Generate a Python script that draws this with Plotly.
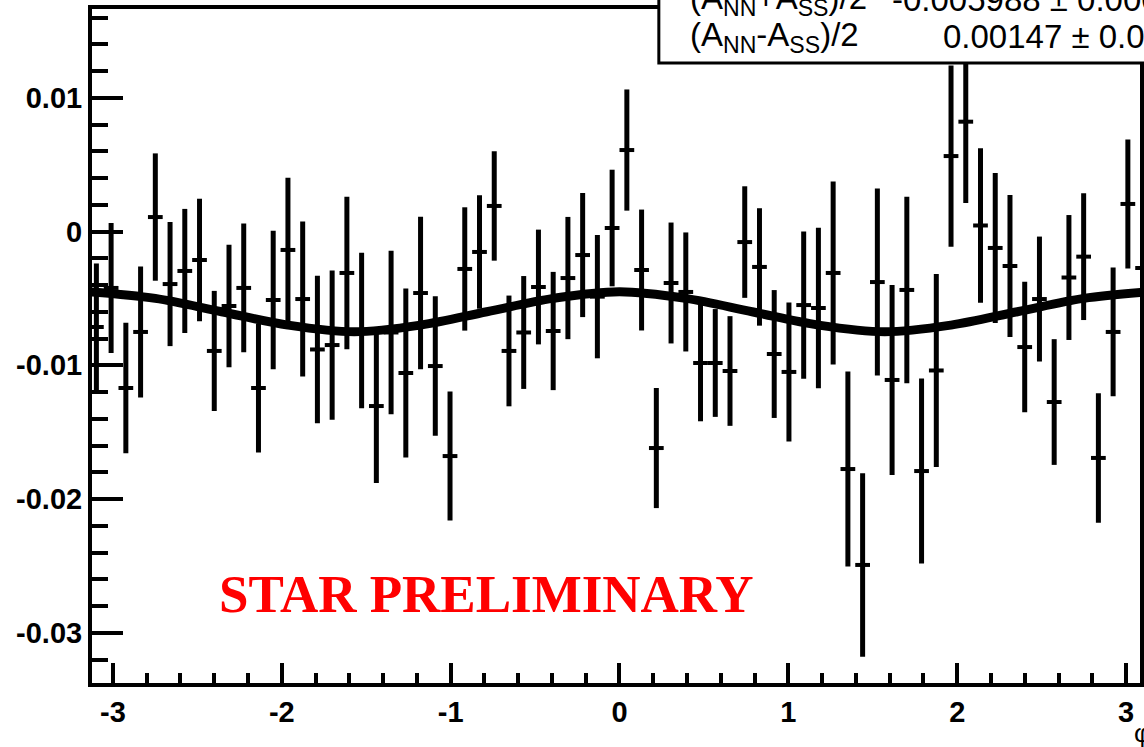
import numpy as np
import plotly.graph_objects as go

# ---- data ----
n_bins = 72
phi_edges = np.linspace(-np.pi, np.pi, n_bins + 1)
phi = 0.5 * (phi_edges[:-1] + phi_edges[1:])
half_bin = 0.5 * (phi_edges[1] - phi_edges[0])

asym = [-0.00714, -0.00422, -0.01170, -0.00751, 0.00108, -0.00393, -0.00295, -0.00213, -0.00893, -0.00557,
        -0.00422, -0.01170, -0.00512, -0.00138, -0.00505, -0.00882, -0.00849, -0.00310, -0.00740, -0.01305,
        -0.00755, -0.01058, -0.00460, -0.01006, -0.01679, -0.00280, -0.00153, 0.00191, -0.00893, -0.00755,
        -0.00415, -0.00744, -0.00348, -0.00176, -0.00487, 0.00026, 0.00609, -0.00288, -0.01619, -0.00385,
        -0.00452, -0.00983, -0.00983, -0.01043, -0.00079, -0.00265, -0.00916, -0.01050, -0.00550, -0.00572,
        -0.00310, -0.01776, -0.02493, -0.00378, -0.01110, -0.00437, -0.01791, -0.01039, 0.00564, 0.00821,
        0.00045, -0.00123, -0.00258, -0.00864, -0.00505, -0.01275, -0.00344, -0.00188, -0.01693, -0.00751,
        0.00206, -0.00273]

asym_err = [0.00475, 0.00486, 0.00488, 0.00490, 0.00476, 0.00464, 0.00464, 0.00458, 0.00449, 0.00458,
            0.00481, 0.00482, 0.00518, 0.00540, 0.00579, 0.00552, 0.00558, 0.00570, 0.00582, 0.00576,
            0.00612, 0.00632, 0.00570, 0.00522, 0.00482, 0.00461, 0.00424, 0.00409, 0.00414, 0.00422,
            0.00429, 0.00442, 0.00457, 0.00464, 0.00461, 0.00436, 0.00453, 0.00452, 0.00449, 0.00452,
            0.00445, 0.00436, 0.00403, 0.00410, 0.00417, 0.00439, 0.00478, 0.00520, 0.00550, 0.00600,
            0.00684, 0.00729, 0.00686, 0.00699, 0.00710, 0.00697, 0.00692, 0.00721, 0.00678, 0.00608,
            0.00577, 0.00561, 0.00530, 0.00488, 0.00467, 0.00470, 0.00467, 0.00474, 0.00484, 0.00481,
            0.00482, 0.00488]

# fit curve every pi/8
fit_phi = np.linspace(-np.pi, np.pi, 17)
fit_vals = [-0.0045, -0.0050, -0.0060, -0.0070, -0.0075, -0.0070, -0.0060, -0.0050, -0.0045,
            -0.0050, -0.0060, -0.0070, -0.0075, -0.0070, -0.0060, -0.0050, -0.0045]

x_tickvals = [-3, -2, -1, 0, 1, 2, 3]
x_ticktext = ["-3", "-2", "-1", "0", "1", "2", "3"]
y_tickvals = [0.01, 0, -0.01, -0.02, -0.03]
y_ticktext = ["0.01", "0", "-0.01", "-0.02", "-0.03"]

stat_rows = [
    ("(A<sub>NN</sub>+A<sub>SS</sub>)/2", "-0.005988 \u00b1 0.000"),
    ("(A<sub>NN</sub>-A<sub>SS</sub>)/2", "0.00147 \u00b1 0.00"),
]

# ---- layout geometry (pixels) ----
W, H = 1144, 747
ML, MR, MT, MB = 92, 0, 9, 64
PW, PH = W - ML - MR, H - MT - MB
X0_PX, X_SCALE = 621.5, 169.5
Y0_PX, Y_SCALE = 231.5, 13375.0


def px_x(p):
    return (p - ML) / PW


def px_y(p):
    return (H - MB - p) / PH


x_range = [(ML - X0_PX) / X_SCALE, (W - MR - X0_PX) / X_SCALE]
y_range = [(Y0_PX - (H - MB)) / Y_SCALE, (Y0_PX - MT) / Y_SCALE]

fig = go.Figure()

fig.add_trace(go.Scatter(
    x=phi, y=asym, mode="markers",
    marker=dict(size=1, color="black"),
    error_y=dict(type="data", array=asym_err, visible=True, color="black", thickness=5, width=0),
    error_x=dict(type="constant", value=half_bin, visible=True, color="black", thickness=4, width=0),
    showlegend=False, cliponaxis=True,
))

fig.add_trace(go.Scatter(
    x=fit_phi, y=fit_vals, mode="lines",
    line=dict(color="black", width=9, shape="spline", smoothing=1.0),
    showlegend=False,
))

axis_font = dict(family="Liberation Sans, Arial, sans-serif", size=29, color="black", weight="bold")

fig.update_xaxes(
    range=x_range, showgrid=False, zeroline=False,
    showline=True, linecolor="black", linewidth=4, mirror=True,
    ticks="inside", ticklen=20, tickwidth=4, tickcolor="black",
    tickvals=x_tickvals, ticktext=x_ticktext, tickfont=axis_font,
    minor=dict(ticks="inside", ticklen=10, tickwidth=4, tickcolor="black", dtick=0.2, tick0=0, showgrid=False),
)
fig.update_yaxes(
    range=y_range, showgrid=False, zeroline=False,
    showline=True, linecolor="black", linewidth=4, mirror=True,
    ticks="inside", ticklen=31, tickwidth=4, tickcolor="black",
    tickvals=y_tickvals, ticktext=y_ticktext, tickfont=axis_font,
    minor=dict(ticks="inside", ticklen=16, tickwidth=4, tickcolor="black", dtick=0.002, tick0=0, showgrid=False),
)

# statistics box (cropped at top-right)
fig.add_shape(type="rect", xref="paper", yref="paper",
              x0=px_x(661), x1=px_x(1160), y0=px_y(63), y1=px_y(-30),
              line=dict(color="black", width=3), fillcolor="white", layer="above")

stat_font = dict(family="Liberation Sans, Arial, sans-serif", size=33, color="black")
row_centers = [0, 37]
value_x = [893, 944]
for (label, value), yc, vx in zip(stat_rows, row_centers, value_x):
    fig.add_annotation(xref="paper", yref="paper", x=px_x(690), y=px_y(yc),
                       xanchor="left", yanchor="middle", text=label, showarrow=False, font=stat_font)
    fig.add_annotation(xref="paper", yref="paper", x=px_x(vx), y=px_y(yc),
                       xanchor="left", yanchor="middle", text=value, showarrow=False, font=stat_font)

fig.add_annotation(xref="paper", yref="paper", x=px_x(488.5), y=px_y(594),
                   xanchor="center", yanchor="middle", text="STAR PRELIMINARY", showarrow=False,
                   font=dict(family="Liberation Serif, Times New Roman, serif", size=53, color="#ff0000", weight="bold"))

fig.add_annotation(xref="paper", yref="paper", x=px_x(1136), y=px_y(733),
                   xanchor="left", yanchor="middle", text="\u03c6", showarrow=False,
                   font=dict(family="Liberation Sans, Arial, sans-serif", size=26, color="black"))

fig.update_layout(
    width=W, height=H, margin=dict(l=ML, r=MR, t=MT, b=MB),
    paper_bgcolor="white", plot_bgcolor="white",
)

fig.write_html("out.html")
